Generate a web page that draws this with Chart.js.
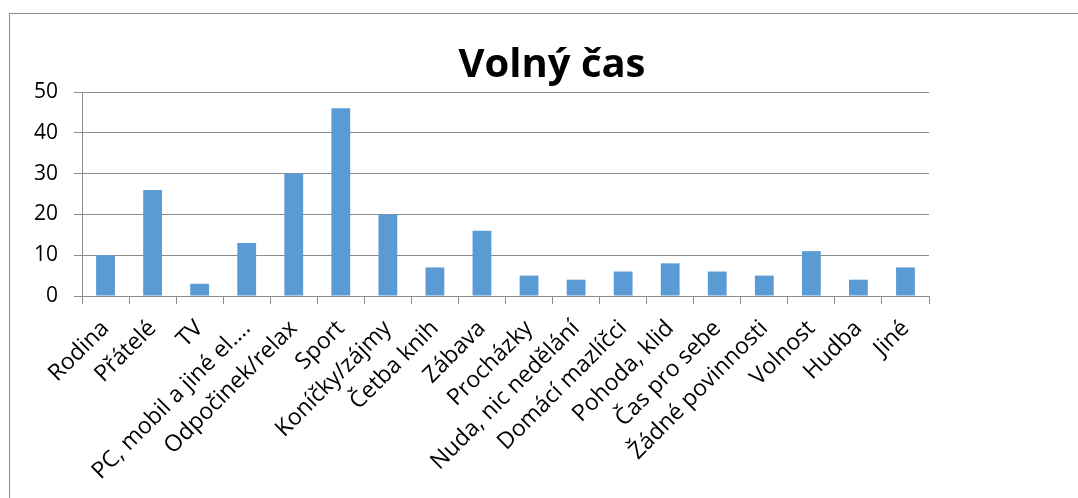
<!DOCTYPE html>
<html>
<head>
<meta charset="utf-8">
<script src="https://cdn.jsdelivr.net/npm/chart.js@4"></script>
<style>
html,body{margin:0;padding:0;background:#fff;overflow:hidden;}
#wrap{position:relative;width:1078px;height:498px;}
#frame{position:absolute;left:9px;top:13px;width:1100px;height:520px;border:1px solid #8c8c8c;box-sizing:border-box;}
canvas{position:absolute;left:0;top:0;}
</style>
</head>
<body>
<div id="wrap">
<div id="frame"></div>
<canvas id="c" width="1078" height="498"></canvas>
</div>
<script>
const categories = ["Rodina","Přátelé","TV","PC, mobil a jiné el.…","Odpočinek/relax","Sport","Koníčky/zájmy","Četba knih","Zábava","Procházky","Nuda, nic nedělání","Domácí mazlíčci","Pohoda, klid","Čas pro sebe","Žádné povinnosti","Volnost","Hudba","Jiné"];
const values = [10,26,3,13,30,46,20,7,16,5,4,6,8,6,5,11,4,7];
const yTicks = [0,10,20,30,40,50];
const titleText = "Volný čas";

const FONT = "'Open Sans', 'DejaVu Sans', sans-serif";

const titlePlugin = {
  id: 'fixedTitle',
  afterDraw(chart) {
    const ctx = chart.ctx;
    ctx.save();
    ctx.font = "bold 40px " + FONT;
    ctx.fillStyle = "#000";
    ctx.textAlign = "center";
    ctx.textBaseline = "alphabetic";
    ctx.fillText(titleText, 552, 77);
    ctx.restore();
  }
};

new Chart(document.getElementById('c'), {
  type: 'bar',
  data: {
    labels: categories,
    datasets: [{
      data: values,
      backgroundColor: '#5b9bd5',
      borderWidth: 0,
      barPercentage: 0.4,
      categoryPercentage: 1.0
    }]
  },
  options: {
    responsive: false,
    animation: false,
    devicePixelRatio: 1,
    layout: { padding: { top: 92, right: 149, left: 0, bottom: 0 } },
    plugins: { legend: { display: false }, tooltip: { enabled: false } },
    scales: {
      x: {
        grid: { display: true, drawOnChartArea: false, drawTicks: true, tickLength: 8, color: '#8c8c8c', offset: true },
        border: { display: true, color: '#8c8c8c', width: 1 },
        ticks: {
          font: { family: FONT, size: 23 },
          color: '#000',
          maxRotation: 45, minRotation: 45,
          autoSkip: false,
          padding: 11
        },
        afterFit(scale) { scale.height = 202; }
      },
      y: {
        min: 0, max: 50,
        afterBuildTicks(scale) { scale.ticks = yTicks.map(v => ({ value: v })); },
        grid: { color: '#8c8c8c', tickLength: 8, drawTicks: true },
        border: { display: true, color: '#8c8c8c', width: 1 },
        ticks: {
          font: { family: FONT, size: 21 },
          color: '#000',
          padding: 16
        },
        afterFit(scale) { scale.width = 82; }
      }
    }
  },
  plugins: [titlePlugin]
});
</script>
</body>
</html>
